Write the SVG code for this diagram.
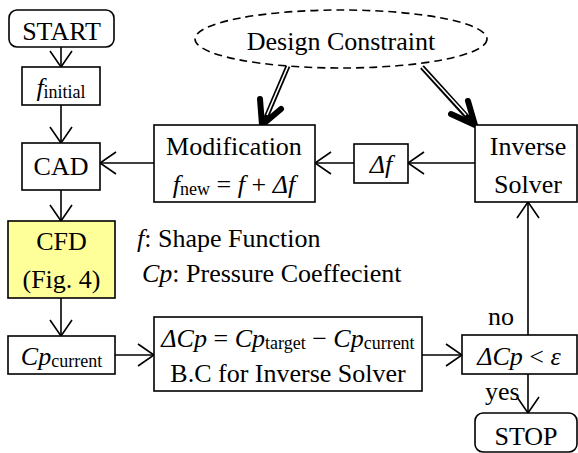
<svg xmlns="http://www.w3.org/2000/svg" width="578" height="453" viewBox="0 0 578 453" font-family="'Liberation Serif', 'Times New Roman', Times, serif">
<defs>
<marker id="ar" viewBox="0 0 18 24" refX="17" refY="12" markerWidth="18" markerHeight="24" markerUnits="userSpaceOnUse" orient="auto">
<path d="M1,1 L17,12 L1,23" fill="none" stroke="#000" stroke-width="1.6"/>
</marker>
<style>
.b{fill:#fff;stroke:#000;stroke-width:1.6}
.t{font-family:'Liberation Serif','Times New Roman',Times,serif;font-size:26px;fill:#000}
.m{text-anchor:middle}
.i{font-style:italic}
.s{font-size:18px}
.c{fill:none;stroke:#000;stroke-width:1.6}
.hd{fill:none;stroke:#000;stroke-width:6;stroke-linecap:round;stroke-linejoin:round}
</style>
</defs>
<rect width="578" height="453" fill="#fff"/>
<g id="connectors">
<line class="c" x1="61" y1="47" x2="61" y2="67" marker-end="url(#ar)"/>
<line class="c" x1="61" y1="105" x2="61" y2="143" marker-end="url(#ar)"/>
<line class="c" x1="61" y1="190" x2="61" y2="221" marker-end="url(#ar)"/>
<line class="c" x1="61" y1="298" x2="61" y2="336" marker-end="url(#ar)"/>
<line class="c" x1="115" y1="355" x2="154" y2="355" marker-end="url(#ar)"/>
<line class="c" x1="422" y1="355" x2="462" y2="355" marker-end="url(#ar)"/>
<line class="c" x1="528" y1="374" x2="528" y2="413" marker-end="url(#ar)"/>
<line class="c" x1="528" y1="335" x2="528" y2="202" marker-end="url(#ar)"/>
<line class="c" x1="475" y1="163" x2="408" y2="163" marker-end="url(#ar)"/>
<line class="c" x1="354" y1="163" x2="315" y2="163" marker-end="url(#ar)"/>
<line class="c" x1="154" y1="163" x2="100" y2="163" marker-end="url(#ar)"/>
<g id="dbl-left">
<line x1="288" y1="66" x2="265" y2="120" stroke="#000" stroke-width="5"/>
<line x1="288" y1="66" x2="267" y2="115" stroke="#fff" stroke-width="1.6"/>
<path class="hd" d="M260,99 L262,125 L281,109"/>
</g>
<g id="dbl-right">
<line x1="422" y1="67" x2="470" y2="120" stroke="#000" stroke-width="5"/>
<line x1="422" y1="67" x2="466" y2="115" stroke="#fff" stroke-width="1.6"/>
<path class="hd" d="M451,114 L475,125 L468,101"/>
</g>
<text class="t" x="485" y="400">yes</text>
<text class="t" x="488" y="325">no</text>
</g>
<g id="start">
<rect class="b" x="9" y="10" width="105" height="37" rx="8"/>
<text class="t m" x="61.5" y="40">START</text>
</g>
<g id="finitial">
<rect class="b" x="22" y="67" width="78" height="38"/>
<text class="t m" x="61" y="96"><tspan class="i">f</tspan><tspan class="s" dy="2">initial</tspan></text>
</g>
<g id="cad">
<rect class="b" x="22" y="143" width="78" height="47"/>
<text class="t m" x="61" y="175">CAD</text>
</g>
<g id="cfd">
<rect x="8" y="221" width="107" height="77" fill="#ffff99" stroke="#000" stroke-width="1.6"/>
<text class="t m" x="61.5" y="250">CFD</text>
<text class="t m" x="61.5" y="288">(Fig. 4)</text>
</g>
<g id="cpcurrent">
<rect class="b" x="8" y="336" width="107" height="38"/>
<text class="t m" x="61.5" y="365"><tspan class="i">Cp</tspan><tspan class="s" dy="2">current</tspan></text>
</g>
<g id="legend">
<text class="t" x="137" y="247"><tspan class="i">f</tspan>: Shape Function</text>
<text class="t" x="142" y="282"><tspan class="i">Cp</tspan>: Pressure Coeffecient</text>
</g>
<g id="deltacp">
<rect class="b" x="154" y="317" width="268" height="74"/>
<text class="t m" x="288" y="347"><tspan class="i">ΔCp</tspan> = <tspan class="i">Cp</tspan><tspan class="s" dy="2">target</tspan><tspan dy="-2"> − </tspan><tspan class="i">Cp</tspan><tspan class="s" dy="2">current</tspan></text>
<text class="t m" x="288" y="382">B.C for Inverse Solver</text>
</g>
<g id="check">
<rect class="b" x="462" y="335" width="115" height="39"/>
<text class="t m" x="519" y="365"><tspan class="i">ΔCp</tspan> &lt; <tspan class="i">ε</tspan></text>
</g>
<g id="stop">
<rect class="b" x="475" y="413" width="102" height="39" rx="8"/>
<text class="t m" x="526" y="445">STOP</text>
</g>
<g id="inverse">
<rect class="b" x="475" y="125" width="102" height="77"/>
<text class="t m" x="528" y="155">Inverse</text>
<text class="t m" x="528" y="193">Solver</text>
</g>
<g id="deltaf">
<rect class="b" x="354" y="144" width="54" height="39"/>
<text class="t m i" x="381" y="173">Δf</text>
</g>
<g id="modification">
<rect class="b" x="154" y="125" width="161" height="77"/>
<text class="t m" x="234" y="155">Modification</text>
<text class="t m" x="234" y="193"><tspan class="i">f</tspan><tspan class="s" dy="2">new</tspan><tspan dy="-2"> = </tspan><tspan class="i">f</tspan> + <tspan class="i">Δf</tspan></text>
</g>
<g id="constraint">
<ellipse cx="341" cy="39" rx="146" ry="29" fill="#fff" stroke="#000" stroke-width="1.6" stroke-dasharray="8,5"/>
<text class="t m" x="341" y="50">Design Constraint</text>
</g>
</svg>
